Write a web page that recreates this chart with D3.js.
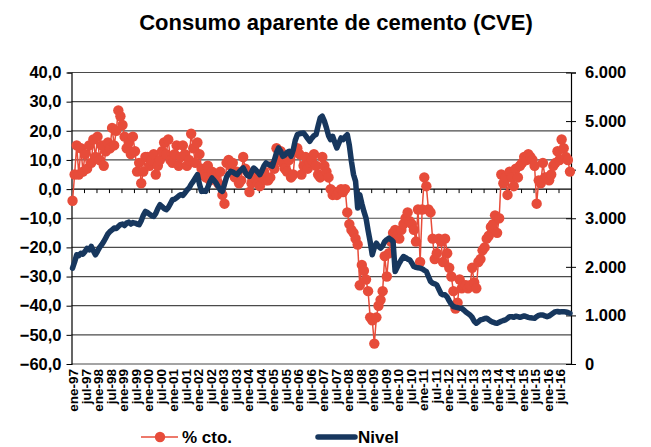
<!DOCTYPE html>
<html><head><meta charset="utf-8">
<script src="https://cdn.jsdelivr.net/npm/d3@7"></script>
<style>body{margin:0;background:#fff}svg{display:block}text{font-family:"Liberation Sans",Arial,sans-serif;font-weight:bold;fill:#000}</style>
</head><body><svg id="c" width="651" height="447"></svg>
<script>
const title = "Consumo aparente de cemento (CVE)";
const tickLabels = ["ene-97","jul-97","ene-98","jul-98","ene-99","jul-99","ene-00","jul-00","ene-01","jul-01","ene-02","jul-02","ene-03","jul-03","ene-04","jul-04","ene-05","jul-05","ene-06","jul-06","ene-07","jul-07","ene-08","jul-08","ene-09","jul-09","ene-10","jul-10","ene-11","jul-11","ene-12","jul-12","ene-13","jul-13","ene-14","jul-14","ene-15","jul-15","ene-16","jul-16"];
const leftTicks = [40,30,20,10,0,-10,-20,-30,-40,-50,-60];
const rightTicks = [0,1000,2000,3000,4000,5000,6000];
const seriesNames = ["% cto.","Nivel"];
// % cto. monthly, ene-97 .. dic-16
const pctCto = [
-4,5,15,5,14,6,12,7,15,9,17,11,
18,10,15,8,13,16,14,21,15,20,27,25,
22,18,14,16,12,18,13,6,9,2,6,11,
11,8,10,12,5,8,10,13,16,12,17,10,
9,12,15,8,11,15,12,8,10,19,14,9,
16,12,7,5,4,8,3,6,4,5,2,6,
-2,-5,9,10,8,9,4,6,2,3,11,7,
6,-1,2,4,5,2,1,4,6,3,3,4,
8,7,14,10,13,9,7,6,10,4,5,13,
14,12,5,8,11,7,9,10,12,8,5,4,
11,8,6,4,0,-2,-1,-2,-1,0,-1,0,
-8,-12,-14,-15,-17,-19,-33,-26,-28,-31,-35,-44,
-45,-53,-44,-40,-38,-35,-23,-30,-22,-18,-15,-14,
-16,-17,-14,-12,-10,-8,-11,-12,-14,-18,-7,-25,
-7,4,1,-7,-8,-17,-24,-22,-17,-18,-25,-17,
-22,-27,-30,-35,-41,-39,-31,-34,-33,-33,-34,-33,
-27,-32,-34,-25,-24,-21,-20,-17,-16,-13,-12,-9,
-15,-10,5,2,4,-2,6,4,1,7,4,8,
9,11,10,12,11,10,8,-5,3,2,9,4,
4,3,5,8,9,13,10,17,14,11,10,6];
// Nivel monthly
const nivel = [
1973,2100,2250,2230,2280,2260,2316,2380,2350,2420,2330,2247,
2320,2400,2454,2520,2600,2680,2728,2760,2800,2790,2831,2870,
2880,2850,2900,2920,2880,2910,2900,2880,2866,2950,3060,3140,
3120,3080,3050,3037,3100,3200,3278,3240,3200,3175,3220,3300,
3381,3390,3420,3460,3485,3470,3520,3580,3622,3700,3760,3830,
3897,3700,3553,3560,3553,3640,3750,3829,3780,3725,3650,3580,
3553,3700,3850,3920,3965,3950,3920,3897,3950,4000,4034,3950,
3880,3862,3950,4034,4000,3950,3897,3980,4080,4138,4110,4090,
4068,4200,4350,4447,4380,4275,4300,4350,4378,4275,4400,4600,
4722,4740,4750,4754,4700,4640,4584,4650,4700,4722,4900,5065,
5100,5000,4860,4700,4619,4686,4560,4447,4550,4653,4619,4680,
4722,4500,4171,3900,3759,3210,3485,3300,3140,3004,2750,2522,
2247,2400,2488,2420,2385,2430,2522,2560,2591,2560,2522,1903,
1990,2076,2150,2213,2190,2160,2144,2080,2006,1990,1980,1973,
1960,1930,1903,1800,1700,1664,1650,1629,1540,1450,1423,1423,
1380,1300,1230,1182,1170,1160,1150,1148,1110,1070,1040,1010,
960,880,839,870,907,920,935,942,910,880,860,845,
839,860,880,895,907,940,975,975,960,985,975,960,
975,990,975,960,950,945,942,975,1000,1010,1010,990,
975,990,1020,1050,1078,1080,1070,1078,1078,1070,1060,1045];

const RED = "#E74C3A", NAVY = "#17375E";
const svg = d3.select("#c");
const L = 71.5, R = 571, T = 72.5, B = 364;
const n = pctCto.length;
const x = d3.scaleLinear().domain([0, n]).range([L, R]);
const yL = d3.scaleLinear().domain([-60, 40]).range([B, T]);
const yR = d3.scaleLinear().domain([0, 6000]).range([B, T]);

svg.append("text").attr("x", 336).attr("y", 30).attr("text-anchor", "middle")
  .style("font-size", "22px").text(title);

// gridlines
svg.append("g").selectAll("line").data(leftTicks.filter(d => d !== 0)).join("line")
  .attr("x1", L).attr("x2", R).attr("y1", d => yL(d)).attr("y2", d => yL(d))
  .attr("stroke", "#4a4a4a").attr("stroke-width", 1.2);

// left axis
const gl = svg.append("g").attr("transform", `translate(${L},0)`)
  .call(d3.axisLeft(yL).tickValues(leftTicks).tickSize(4)
    .tickFormat(d => d3.format(".1f")(d).replace(".", ",")));
gl.select(".domain").attr("stroke", "#000").attr("stroke-width", 1.2);
gl.selectAll(".tick line").attr("x2", -5).attr("stroke", "#000");
gl.selectAll(".tick text").attr("x", -10).style("font-size", "16.5px").style("font-family", null);

// right axis
const gr = svg.append("g").attr("transform", `translate(${R},0)`)
  .call(d3.axisRight(yR).tickValues(rightTicks).tickSize(5)
    .tickFormat(d => d3.format(",")(d).replace(/,/g, ".")));
gr.select(".domain").attr("stroke", "#000").attr("stroke-width", 1.2);
gr.selectAll(".tick line").attr("x1", -5).attr("x2", 5).attr("stroke", "#000");
gr.selectAll(".tick text").attr("x", 14).style("font-size", "16.5px").style("font-family", null);

// zero axis with ticks
const g0 = svg.append("g").attr("transform", `translate(0,${yL(0)})`)
  .call(d3.axisBottom(x).tickValues(d3.range(6, n, 6)).tickSize(4).tickFormat(""));
g0.select(".domain").attr("d", `M${L},0H${R}`).attr("stroke", "#000").attr("stroke-width", 1.3);
g0.selectAll(".tick line").attr("stroke", "#000");

// bottom category labels
svg.append("g").selectAll("text").data(tickLabels).join("text")
  .attr("transform", (d, i) => `translate(${x(i * 6 + 0.5) + 1},${B + 5}) rotate(-90)`)
  .attr("text-anchor", "end").attr("dy", "0.36em")
  .style("font-size", "13.5px").text(d => d);

// red series
const lineL = d3.line().x((d, i) => x(i + 0.5)).y(d => yL(d));
svg.append("path").attr("d", lineL(pctCto)).attr("fill", "none")
  .attr("stroke", RED).attr("stroke-width", 1.5);
svg.append("g").selectAll("circle").data(pctCto).join("circle")
  .attr("cx", (d, i) => x(i + 0.5)).attr("cy", d => yL(d)).attr("r", 5.2).attr("fill", RED);

// navy series
const lineR = d3.line().x((d, i) => x(i + 0.5)).y(d => yR(d));
svg.append("path").attr("d", lineR(nivel)).attr("fill", "none")
  .attr("stroke", NAVY).attr("stroke-width", 5.5).attr("stroke-linejoin", "round").attr("stroke-linecap", "round");

// legend
const lg = svg.append("g");
lg.append("line").attr("x1", 141).attr("x2", 178).attr("y1", 437).attr("y2", 437).attr("stroke", RED).attr("stroke-width", 1.5);
lg.append("circle").attr("cx", 160).attr("cy", 437).attr("r", 5.2).attr("fill", RED);
lg.append("text").attr("x", 182).attr("y", 443).style("font-size", "17px").text(seriesNames[0]);
lg.append("line").attr("x1", 318).attr("x2", 355).attr("y1", 437).attr("y2", 437).attr("stroke", NAVY).attr("stroke-width", 5.5).attr("stroke-linecap", "round");
lg.append("text").attr("x", 358).attr("y", 443).style("font-size", "17px").text(seriesNames[1]);
</script></body></html>
